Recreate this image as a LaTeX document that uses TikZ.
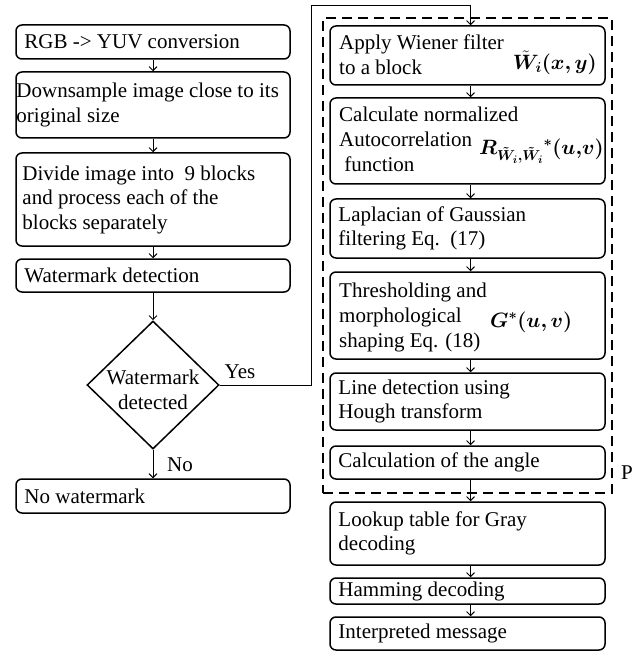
\documentclass[tikz,border=0pt]{standalone}
\usepackage{fontspec}
\setmainfont{Liberation Serif}
\usepackage{amsmath}
\usepackage{bm}
\usetikzlibrary{arrows.meta,shapes.geometric}
\begin{document}
\begin{tikzpicture}[x=1pt,y=-1pt,
  font=\fontsize{21}{24.5}\selectfont,
  box/.style={draw, line width=1.5pt, rounded corners=6pt, inner sep=0pt, minimum width=274pt},
  rbox/.style={box, minimum width=275pt},
  txt/.style={anchor=west, align=left, inner sep=0pt},
  ln/.style={anchor=base west, inner sep=0pt},
  arr/.style={-{Straight Barb[length=4pt,width=8pt]}, line width=0.9pt},
  dashbox/.style={draw, line width=2.6pt, dash pattern=on 10pt off 6pt, inner sep=0pt}]
\useasboundingbox (0,0) rectangle (640,660);

% left column
\node[box, minimum height=34pt] (L1) at (153,42) {};
\node[txt] (t1) at ([xshift=9pt]L1.west) {RGB -> YUV conversion};
\node[box, minimum height=66pt] (L2) at (153,105) {};
\node[txt] (t2) at ([xshift=1pt]L2.west) {Downsample image close to its\\original size};
\node[box, minimum height=93pt] (L3) at (153,199.5) {};
\node[txt] (t3) at ([xshift=7pt]L3.west) {Divide image into\ \ 9 blocks\\and process each of the\\blocks separately};
\node[box, minimum height=33pt] (L4) at (153,275.5) {};
\node[txt] (t4) at ([xshift=9pt]L4.west) {Watermark detection};
\node[draw, diamond, line width=1.5pt, minimum width=132pt, minimum height=128pt, inner sep=0pt] (D) at (153,385) {};
\node[align=center, inner sep=0pt] (tD) at (153,390) {Watermark\\detected};
\node[box, minimum height=34pt] (L5) at (153,496) {};
\node[txt] (t5) at ([xshift=9pt]L5.west) {No watermark};

\draw[arr] (L1) -- (L2);
\draw[arr] (L2) -- (L3);
\draw[arr] (L3) -- (L4);
\draw[arr] (L4) -- (D);
\draw[arr] (D) -- (L5);
\node (no) at (180,465) {No};
\node (yes) at (240,372) {Yes};

% dashed group
\node[dashbox, minimum width=289pt, minimum height=475pt] (G) at (467.5,255.5) {};
\node (P) at (627,473) {P};

% right column
\node[rbox, minimum height=59pt] (R1) at (467.5,55.5) {};
\node[ln] (s1a) at (339,50) {Apply Wiener filter};
\node[ln] (s1b) at (339,75) {to a block};
\node[inner sep=0pt, anchor=east] (f1) at (597,63) {$\bm{\tilde{W}_i(x,y)}$};
\node[rbox, minimum height=86pt] (R2) at (467.5,141) {};
\node[ln] (s2a) at (339,122) {Calculate normalized};
\node[ln] (s2b) at (339,147) {Autocorrelation};
\node[ln] (s2c) at (339,172) {\ function};
\node[inner sep=0pt, anchor=east] (f2) at (604,151) {$\bm{R_{\tilde{W}_i,\tilde{W}_i}{}^{*}(u,\!v)}$};
\node[rbox, minimum height=59pt] (R3) at (467.5,228.5) {};
\node[txt] (s3) at ([xshift=9pt]R3.west) {Laplacian of Gaussian\\filtering Eq.\ \ (17)};
\node[rbox, minimum height=87pt] (R4) at (467.5,315.5) {};
\node[ln] (s4a) at (339,297) {Thresholding and};
\node[ln] (s4b) at (339,322) {morphological};
\node[ln] (s4c) at (339,347) {shaping Eq. (18)};
\node[inner sep=0pt, anchor=west] (f4) at (490,322) {$\bm{G^{*}(u,v)}$};
\node[rbox, minimum height=57pt] (R5) at (467.5,401.5) {};
\node[txt] (s5) at ([xshift=9pt]R5.west) {Line detection using\\Hough transform};
\node[rbox, minimum height=33pt] (R6) at (467.5,462.5) {};
\node[txt] (s6) at ([xshift=9pt]R6.west) {Calculation of the angle};
\node[rbox, minimum height=63pt] (R7) at (467.5,533.5) {};
\node[txt] (s7) at ([xshift=9pt]R7.west) {Lookup table for Gray\\decoding};
\node[rbox, minimum height=26pt] (R8) at (467.5,591) {};
\node[txt] (s8) at ([xshift=9pt]R8.west) {Hamming decoding};
\node[rbox, minimum height=33pt] (R9) at (467.5,633.5) {};
\node[txt] (s9) at ([xshift=9pt]R9.west) {Interpreted message};

\coordinate (c1) at (311,5);
\draw[arr] (D.east) -| (c1) -| ([xshift=3pt]R1.north);
\foreach \a/\b in {R1/R2,R2/R3,R3/R4,R4/R5,R5/R6,R6/R7,R7/R8,R8/R9}
  \draw[arr] ([xshift=3pt]\a.south) -- ([xshift=3pt]\b.north);
\end{tikzpicture}
\end{document}
